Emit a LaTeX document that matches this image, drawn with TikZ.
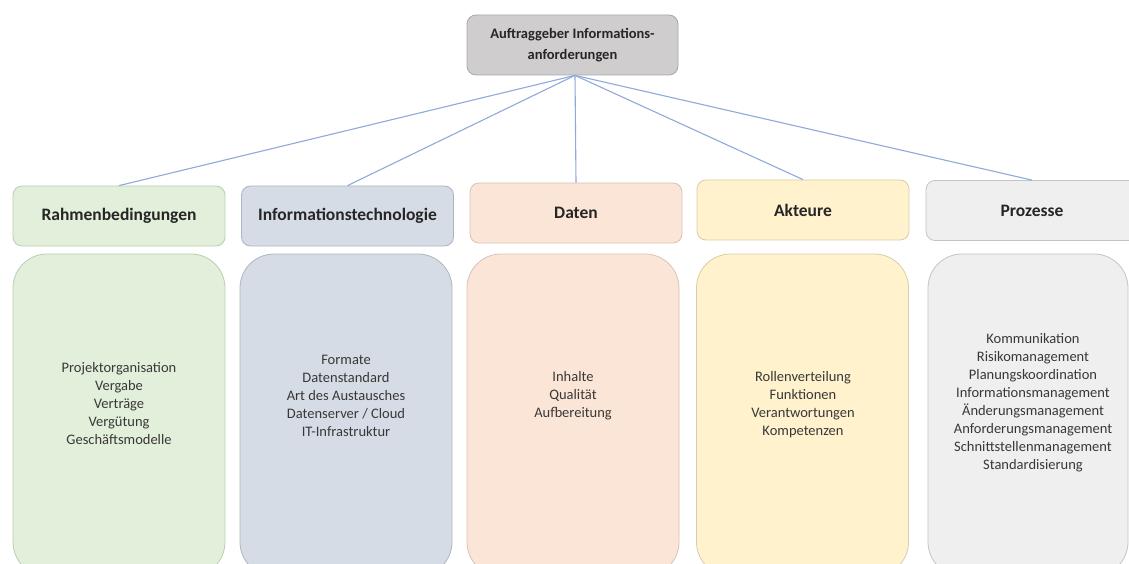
\documentclass[tikz,border=0pt]{standalone}
\usepackage{fontspec}
\setmainfont{Carlito}
\definecolor{cgreen}{HTML}{E2EFDA}\definecolor{bgreen}{HTML}{BCCDB0}
\definecolor{cblue}{HTML}{D6DCE5}\definecolor{bblue}{HTML}{AEB6C2}
\definecolor{corange}{HTML}{FBE5D6}\definecolor{borange}{HTML}{D8C3B5}
\definecolor{cyellow}{HTML}{FFF2CC}\definecolor{byellow}{HTML}{D9CCA8}
\definecolor{cgrey}{HTML}{EFEFEF}\definecolor{bgrey}{HTML}{C4C4C4}
\definecolor{ctop}{HTML}{CFCDCD}\definecolor{btop}{HTML}{A8A8A8}
\definecolor{linkc}{HTML}{8EA9DB}
\begin{document}
\begin{tikzpicture}[x=1pt,y=-1pt,
  topbox/.style={rectangle, rounded corners=9pt, minimum width=211pt, minimum height=60pt,
    inner sep=0pt, line width=0.8pt, fill=ctop, draw=btop, align=center,
    font=\bfseries\fontsize{14.5}{21}\selectfont, text=black!85},
  hdr/.style={rectangle, rounded corners=9pt, minimum width=212pt, minimum height=60pt,
    inner sep=0pt, line width=0.8pt, font=\bfseries\fontsize{17.5}{20}\selectfont, text=black!85},
  bodybox/.style={rectangle, rounded corners=34pt, minimum width=212pt, minimum height=322pt,
    inner sep=0pt, line width=0.8pt},
  itemtxt/.style={align=center, inner sep=0pt, font=\fontsize{14.5}{18}\selectfont, text=black!78},
  link/.style={draw=linkc, line width=1.1pt}]
\useasboundingbox (0,0) rectangle (1129,564);
\clip (0,0) rectangle (1129,564);

\node[topbox] (top) at (572.5,45) {Auftraggeber Informations-\\anforderungen};

\node[hdr, fill=cgreen, draw=bgreen] (h1) at (119,216) {Rahmenbedingungen};
\node[hdr, fill=cblue, draw=bblue] (h2) at (347.5,216) {Informationstechnologie};
\node[hdr, fill=corange, draw=borange] (h3) at (576,213) {Daten};
\node[hdr, fill=cyellow, draw=byellow] (h4) at (803,210) {Akteure};
\node[hdr, fill=cgrey, draw=bgrey] (h5) at (1032,210.5) {Prozesse};

\node[bodybox, fill=cgreen, draw=bgreen] (b1) at (119,415) {};
\node[bodybox, fill=cblue, draw=bblue] (b2) at (346,415) {};
\node[bodybox, fill=corange, draw=borange] (b3) at (573,415) {};
\node[bodybox, fill=cyellow, draw=byellow] (b4) at (802.5,415) {};
\node[bodybox, fill=cgrey, draw=bgrey, minimum width=200pt] (b5) at (1028,415) {};

\node[itemtxt] (t1) at (119,404) {Projektorganisation\\Vergabe\\Verträge\\Vergütung\\Geschäftsmodelle};
\node[itemtxt] (t2) at (346,396) {Formate\\Datenstandard\\Art des Austausches\\Datenserver / Cloud\\IT-Infrastruktur};
\node[itemtxt] (t3) at (573,396) {Inhalte\\Qualität\\Aufbereitung};
\node[itemtxt] (t4) at (803,405) {Rollenverteilung\\Funktionen\\Verantwortungen\\Kompetenzen};
\node[itemtxt] (t5) at (1033,403) {Kommunikation\\Risikomanagement\\Planungskoordination\\Informationsmanagement\\Änderungsmanagement\\Anforderungsmanagement\\Schnittstellenmanagement\\Standardisierung};

\coordinate (apex) at ([xshift=2.5pt]top.south);
\foreach \h in {h1,h2,h3,h4,h5}
  \draw[link] (apex) -- (\h.north);
\end{tikzpicture}
\end{document}
